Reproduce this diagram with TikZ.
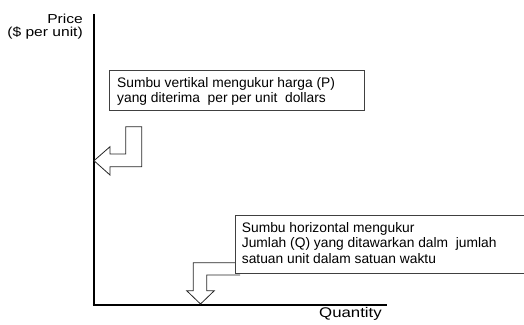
\documentclass[tikz,border=0pt]{standalone}
\usepackage{fontspec}
\setmainfont{Liberation Sans}
\newfontfamily\widefont[FakeStretch=1.2]{Liberation Sans}
\begin{document}
\begin{tikzpicture}[x=1pt,y=-1pt,
  axis/.style={line width=2pt,black},
  textbox/.style={draw=black!75,line width=0.8pt,fill=white,inner sep=0pt,rectangle},
  boxtext/.style={anchor=base west,inner sep=0pt,font=\fontsize{13.8}{15.5}\selectfont},
  axislabel/.style={inner sep=0pt,font=\widefont\fontsize{13}{15}\selectfont},
  blockarrow/.style={draw=black!85,line width=0.8pt,fill=white,line join=miter}]
\useasboundingbox (0,0) rectangle (524,324);
% axes
\coordinate (origin) at (93.5,305);
\coordinate (ytop) at (93.5,14);
\coordinate (xend) at (387,305);
\draw[axis] (ytop) -- (93.5,306) ;
\draw[axis] (92.5,305) -- (xend);
% axis labels
\node[axislabel,anchor=base east] (price1) at (83,23.5) {Price};
\node[axislabel,anchor=base east] (price2) at (83,36.5) {(\$ per unit)};
\node[axislabel,anchor=base west,font=\widefont\fontsize{14}{16}\selectfont] (qty) at (319,317.5) {Quantity};
% top arrow
\coordinate (vtip) at (94,160.7);
\draw[blockarrow] (125.7,126.7) -- (141.7,126.7) -- (141.7,166.7) -- (110,166.7) -- (110,175)
  -- (vtip) -- (110,146.7) -- (110,154) -- (125.7,154) -- cycle;
% bottom arrow
\coordinate (htip) at (200.5,304);
\draw[blockarrow] (240,262.7) -- (193.3,262.7) -- (193.3,290.7) -- (186.7,290.7) -- (htip)
  -- (214.3,290.7) -- (206.7,290.7) -- (206.7,275) -- (240,275);
% top box
\node[textbox,minimum width=255pt,minimum height=40pt] (vbox) at (236.5,90) {};
\node[boxtext] (vt1) at (117,87) {Sumbu vertikal mengukur harga (P)};
\node[boxtext] (vt2) at (117,102) {yang diterima\ \ per per unit\ \ dollars};
% bottom box
\node[textbox,minimum width=291pt,minimum height=58.3pt] (hbox) at (380.5,244.2) {};
\node[boxtext] (ht1) at (241.7,232) {Sumbu horizontal mengukur};
\node[boxtext] (ht2) at (241.7,247.5) {Jumlah (Q) yang ditawarkan dalm\ \ jumlah};
\node[boxtext] (ht3) at (241.7,263) {satuan unit dalam satuan waktu};
\end{tikzpicture}
\end{document}
